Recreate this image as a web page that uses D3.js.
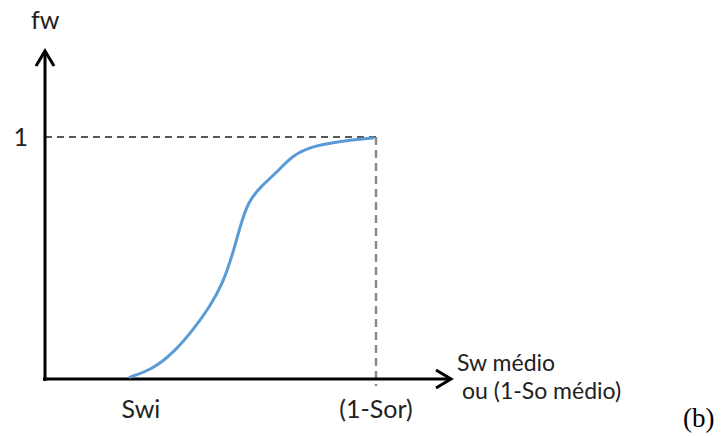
<!DOCTYPE html>
<html>
<head>
<meta charset="utf-8">
<script src="https://cdn.jsdelivr.net/npm/d3@7"></script>
<style>
  body { margin: 0; background: #fff; }
  svg { display: block; }
</style>
</head>
<body>
<script>
// fractional flow curve, x = Sw (0 at axis, 1 at 1-Sor), y = fw
var swValues = [0.257, 0.326, 0.387, 0.447, 0.498, 0.538, 0.568, 0.589, 0.613, 0.650, 0.701, 0.749, 0.810, 0.891, 0.991];
var fwValues = [0.008, 0.041, 0.107, 0.202, 0.298, 0.397, 0.521, 0.628, 0.731, 0.793, 0.855, 0.926, 0.963, 0.983, 0.996];

// labels
var yTickLabels = ["1"];
var xTickLabels = ["Swi", "(1-Sor)"];
var xTickValues = [0.29, 1.0];
var xTitle = ["Sw médio", "ou (1-So médio)"];
var yTitle = "fw";
var panelLabel = "(b)";

var W = 725, H = 436;
var font = "Lato, 'Open Sans', sans-serif";

var x = d3.scaleLinear().domain([0, 1]).range([45, 376]);
var y = d3.scaleLinear().domain([0, 1]).range([379, 137]);

var svg = d3.select('body')
  .append('svg')
    .attr('width', W)
    .attr('height', H);

// dashed guides to fw = 1 and Sw = 1-Sor
svg.append('line')
    .attr('x1', x(0)).attr('x2', x(1))
    .attr('y1', y(1)).attr('y2', y(1))
    .attr('stroke', '#222')
    .attr('stroke-width', 1.6)
    .attr('stroke-dasharray', '7,5');

svg.append('line')
    .attr('x1', x(1)).attr('x2', x(1))
    .attr('y1', y(1)).attr('y2', y(0) + 7)
    .attr('stroke', '#888')
    .attr('stroke-width', 2.4)
    .attr('stroke-dasharray', '8,5');

// axes
var ax = svg.append('g')
    .attr('stroke', '#000')
    .attr('stroke-width', 3)
    .attr('fill', 'none');

ax.append('line')
    .attr('x1', x(0)).attr('x2', x(0))
    .attr('y1', y(0) + 2).attr('y2', 51);
ax.append('polyline')
    .attr('points', [[x(0) - 9, 66], [x(0), 51], [x(0) + 9, 66]].join(' '))
    .attr('stroke-linejoin', 'miter');

ax.append('line')
    .attr('x1', x(0) - 2).attr('x2', 451)
    .attr('y1', y(0)).attr('y2', y(0));
ax.append('polyline')
    .attr('points', [[436, y(0) - 9], [451, y(0)], [436, y(0) + 9]].join(' '))
    .attr('stroke-linejoin', 'miter');

// curve
var pts = swValues.map(function(d, i) { return [d, fwValues[i]]; });
var line = d3.line()
    .x(function(d) { return x(d[0]); })
    .y(function(d) { return y(d[1]); })
    .curve(d3.curveBasis);

svg.append('path')
    .datum(pts)
    .attr('d', line)
    .attr('fill', 'none')
    .attr('stroke', '#5b9bd5')
    .attr('stroke-width', 3)
    .attr('stroke-linecap', 'round');

// texts
var txt = svg.append('g')
    .attr('font-family', font)
    .attr('font-size', 25)
    .attr('fill', '#222');

txt.append('text')
    .attr('x', 31).attr('y', 29)
    .text(yTitle);

txt.selectAll('text.ytick')
  .data(yTickLabels)
  .enter().append('text')
    .attr('class', 'ytick')
    .attr('x', 28).attr('y', y(1) + 9)
    .attr('text-anchor', 'end')
    .text(function(d) { return d; });

txt.selectAll('text.xtick')
  .data(xTickLabels)
  .enter().append('text')
    .attr('class', 'xtick')
    .attr('x', function(d, i) { return x(xTickValues[i]); })
    .attr('y', 418)
    .attr('text-anchor', 'middle')
    .text(function(d) { return d; });

txt.selectAll('text.xtitle')
  .data(xTitle)
  .enter().append('text')
    .attr('class', 'xtitle')
    .attr('x', function(d, i) { return i == 0 ? 457 : 462; })
    .attr('y', function(d, i) { return 371 + i * 28; })
    .attr('font-size', 23)
    .text(function(d) { return d; });

svg.append('text')
    .attr('x', 683).attr('y', 427)
    .attr('font-family', "'Liberation Serif', 'Times New Roman', serif")
    .attr('font-size', 27)
    .attr('fill', '#000')
    .text(panelLabel);
</script>
</body>
</html>
